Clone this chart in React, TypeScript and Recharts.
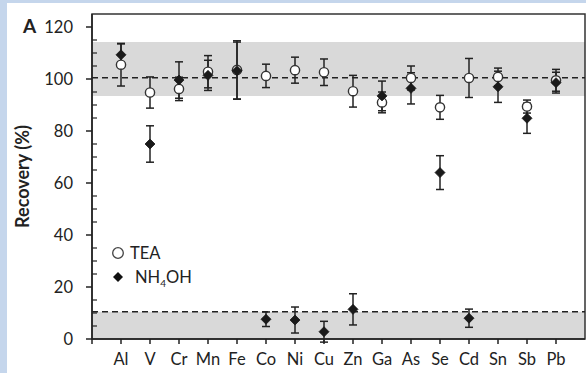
import React from 'react';
import {
  ScatterChart,
  Scatter,
  XAxis,
  YAxis,
  ErrorBar,
  ReferenceArea,
  ReferenceLine,
  Legend,
} from 'recharts';

// ---------- data ----------
const elements = ['Al', 'V', 'Cr', 'Mn', 'Fe', 'Co', 'Ni', 'Cu', 'Zn', 'Ga', 'As', 'Se', 'Cd', 'Sn', 'Sb', 'Pb'];
const teaValues = [105.5, 94.8, 96.2, 102.8, 103.5, 101.2, 103.4, 102.6, 95.3, 91.0, 100.4, 89.1, 100.4, 100.8, 89.4, 99.5];
const teaErrors = [8.2, 6.0, 4.5, 6.2, 11.2, 4.5, 5.0, 5.1, 6.1, 4.0, 4.6, 4.6, 7.5, 3.4, 2.5, 4.2];
const nh4ohValues = [109.3, 75.0, 99.6, 101.4, 103.2, 7.6, 7.3, 2.8, 11.4, 93.5, 96.4, 64.0, 8.0, 97.0, 84.9, 98.6];
const nh4ohErrors = [4.2, 7.0, 7.0, 5.8, 11.0, 2.8, 5.0, 4.0, 6.0, 5.7, 6.0, 6.5, 3.5, 6.0, 5.8, 4.0];

const yTicks = [0, 5, 10, 15, 20, 25, 30, 35, 40, 45, 50, 55, 60, 65, 70, 75, 80, 85, 90, 95, 100, 105, 110, 115, 120];
const yMajorStep = 20;
const xTicks = [0, 1, 2, 3, 4, 5, 6, 7, 8, 9, 10, 11, 12, 13, 14, 15, 16];
const xDomain = [0, 17];
const yDomain = [0, 125];
const upperBand = [93.5, 114.2];
const lowerBand = [0, 10.5];
const targetLines = [100.5, 10.5];

const teaData = teaValues.map((y, i) => ({ x: i + 1, y, err: teaErrors[i] }));
const nh4ohData = nh4ohValues.map((y, i) => ({ x: i + 1, y, err: nh4ohErrors[i] }));

// ---------- styles ----------
const FONT = 'Lato, "Open Sans", sans-serif';
const INK = '#222222';

const YTick = (props: any) => {
  const { x, y, payload } = props;
  const v = payload.value;
  const major = v % yMajorStep === 0;
  return (
    <g>
      {major ? (
        <line x1={x - 6} x2={x} y1={y} y2={y} stroke={INK} strokeWidth={1.5} />
      ) : (
        <line x1={x} x2={x + 5} y1={y} y2={y} stroke={INK} strokeWidth={1.2} />
      )}
      {major && (
        <text x={x - 19} y={y} dy="0.36em" textAnchor="end" fontFamily={FONT} fontSize={16.5} fill={INK}>
          {v}
        </text>
      )}
    </g>
  );
};

const CircleShape = (props: any) => {
  const { cx, cy } = props;
  if (cx == null || cy == null) return null;
  return <circle cx={cx} cy={cy} r={4.6} fill="#ffffff" stroke="#333333" strokeWidth={1.4} />;
};

const DiamondShape = (props: any) => {
  const { cx, cy } = props;
  if (cx == null || cy == null) return null;
  const s = 5;
  return (
    <polygon
      points={`${cx},${cy - s} ${cx + s},${cy} ${cx},${cy + s} ${cx - s},${cy}`}
      fill="#1a1a1a"
      stroke="#1a1a1a"
      strokeWidth={0.8}
    />
  );
};

const LegendContent = () => (
  <div style={{ fontFamily: FONT, fontSize: 16.5, color: INK, lineHeight: '24px' }}>
    <div style={{ display: 'flex', alignItems: 'center', height: 24 }}>
      <svg width={14} height={14}>
        <circle cx={7} cy={7} r={5.3} fill="#fff" stroke="#444" strokeWidth={1.3} />
      </svg>
      <span style={{ marginLeft: 5 }}>TEA</span>
    </div>
    <div style={{ display: 'flex', alignItems: 'center', height: 24 }}>
      <svg width={14} height={14}>
        <polygon points="7,2 12,7 7,12 2,7" fill="#111" />
      </svg>
      <span style={{ marginLeft: 10 }}>
        NH<sub style={{ fontSize: 10, verticalAlign: 'sub', lineHeight: 0 }}>4</sub>OH
      </span>
    </div>
  </div>
);

export default function App() {
  return (
    <div style={{ position: 'absolute', left: 0, top: 0, width: 586, height: 373, background: '#ffffff', overflow: 'hidden' }}>
      <div style={{ position: 'absolute', left: 0, top: 0, width: 586, height: 3, background: '#c5d6ec' }} />
      <div style={{ position: 'absolute', left: 0, top: 0, width: 7, height: 373, background: '#c5d6ec' }} />
      <div style={{ position: 'absolute', left: 0, top: 0 }}>
        <ScatterChart width={586} height={373} margin={{ top: 14, right: 1, bottom: 0, left: 0 }}>
          <ReferenceArea y1={upperBand[0]} y2={upperBand[1]} fill="#d9d9d9" fillOpacity={1} stroke="none" />
          <ReferenceArea y1={lowerBand[0]} y2={lowerBand[1]} fill="#d9d9d9" fillOpacity={1} stroke="none" />
          <ReferenceArea
            x1={xDomain[0]}
            x2={xDomain[1]}
            y1={yDomain[0]}
            y2={yDomain[1]}
            fill="none"
            fillOpacity={0}
            stroke="#333"
            strokeWidth={1.5}
          />
          {targetLines.map((v) => (
            <ReferenceLine key={v} y={v} stroke={INK} strokeWidth={1.5} strokeDasharray="6 4" />
          ))}
          <XAxis
            type="number"
            dataKey="x"
            domain={xDomain}
            ticks={xTicks}
            interval={0}
            allowDataOverflow
            height={34}
            tickSize={5}
            tickMargin={9}
            tickLine={{ stroke: INK, strokeWidth: 1.5 }}
            axisLine={{ stroke: INK, strokeWidth: 1.5 }}
            tick={{ fontFamily: FONT, fontSize: 16.5, fill: INK }}
            tickFormatter={(i: number) => elements[i - 1] ?? ''}
          />
          <YAxis
            type="number"
            dataKey="y"
            domain={yDomain}
            ticks={yTicks}
            interval={0}
            allowDataOverflow
            width={92}
            tickSize={0}
            tickMargin={0}
            tickLine={false}
            axisLine={{ stroke: INK, strokeWidth: 1.5 }}
            tick={<YTick />}
            label={{
              value: 'Recovery (%)',
              angle: -90,
              position: 'insideLeft',
              dx: 18,
              dy: 0,
              style: { fontFamily: FONT, fontSize: 18, fontWeight: 700, fill: INK, textAnchor: 'middle' },
            }}
          />
          <Scatter name="TEA" data={teaData} shape={<CircleShape />} isAnimationActive={false}>
            <ErrorBar dataKey="err" direction="y" width={4} stroke={INK} strokeWidth={1.5} />
          </Scatter>
          <Scatter name="NH4OH" data={nh4ohData} shape={<DiamondShape />} isAnimationActive={false}>
            <ErrorBar dataKey="err" direction="y" width={4} stroke={INK} strokeWidth={1.5} />
          </Scatter>
          <Legend
            layout="vertical"
            align="center"
            verticalAlign="middle"
            content={<LegendContent />}
            wrapperStyle={{ position: 'absolute', left: 111, top: 241, width: 110 }}
          />
        </ScatterChart>
      </div>
      <div
        style={{
          position: 'absolute',
          left: 23,
          top: 14,
          fontFamily: FONT,
          fontSize: 19,
          fontWeight: 700,
          color: INK,
          lineHeight: '24px',
        }}
      >
        A
      </div>
    </div>
  );
}
